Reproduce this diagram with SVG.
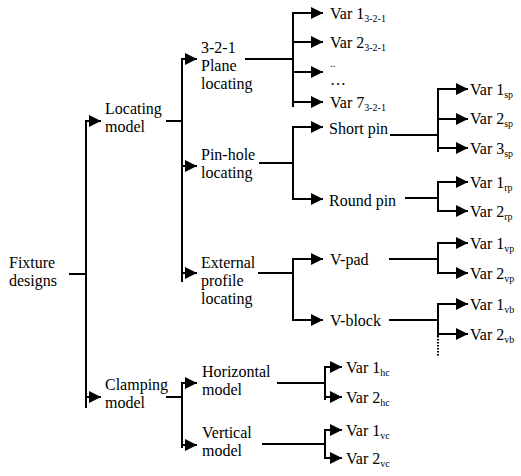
<svg xmlns="http://www.w3.org/2000/svg" width="521" height="476" viewBox="0 0 521 476" font-size="16">
<style>
.t{font-family:Liberation Serif}
.sub{font-size:10px}
.ln{stroke:#000;stroke-width:2;fill:none}
.ar{stroke:#000;stroke-width:2;fill:none;marker-end:url(#ah)}
.dot{stroke:#000;stroke-width:2;fill:none;stroke-dasharray:1.5 1.5}
</style>
<defs>
<marker id="ah" markerUnits="userSpaceOnUse" markerWidth="13" markerHeight="13" refX="12" refY="6" orient="auto" overflow="visible">
<path d="M0,0 L12,6 L0,12 Z" fill="#000"/>
</marker>
</defs>
<rect width="521" height="476" fill="#fff"/>
<g id="connectors">
<path class="ln" d="M69,274 H86 M86,120 V408"/>
<path class="ar" d="M86,121 H101"/>
<path class="ar" d="M86,397 H101"/>
<path class="ln" d="M166,121 H182 M182,58 V282"/>
<path class="ar" d="M182,59 H197"/>
<path class="ar" d="M182,166 H197"/>
<path class="ar" d="M182,273 H197"/>
<path class="ln" d="M166,397 H182 M182,382 V448"/>
<path class="ar" d="M182,383 H197"/>
<path class="ar" d="M182,445 H197"/>
<path class="ln" d="M245,59 H293 M293,12 V107"/>
<path class="ar" d="M293,13 H323"/>
<path class="ar" d="M293,42 H323"/>
<path class="ar" d="M293,72 H323"/>
<path class="ar" d="M293,102 H323"/>
<path class="ln" d="M259,163 H293 M293,126 V200"/>
<path class="ar" d="M293,127 H323"/>
<path class="ar" d="M293,199 H323"/>
<path class="ln" d="M258,273 H293 M293,258 V321"/>
<path class="ar" d="M293,259 H323"/>
<path class="ar" d="M293,320 H323"/>
<path class="ln" d="M390,135 H438 M438,88 V152"/>
<path class="ar" d="M438,89 H468"/>
<path class="ar" d="M438,119 H468"/>
<path class="ar" d="M438,148 H468"/>
<path class="ln" d="M405,198 H438 M438,181 V212"/>
<path class="ar" d="M438,182 H468"/>
<path class="ar" d="M438,211 H468"/>
<path class="ln" d="M389,259 H438 M438,242 V274"/>
<path class="ar" d="M438,243 H468"/>
<path class="ar" d="M438,273 H468"/>
<path class="ln" d="M389,320 H438 M438,303 V336"/>
<path class="dot" d="M438,336 V357"/>
<path class="ar" d="M438,304 H468"/>
<path class="ar" d="M438,334 H468"/>
<path class="ln" d="M277,383 H325 M325,366 V400"/>
<path class="ar" d="M325,367 H342"/>
<path class="ar" d="M325,397 H342"/>
<path class="ln" d="M262,444 H325 M325,429 V459"/>
<path class="ar" d="M325,430 H342"/>
<path class="ar" d="M325,458 H342"/>
</g>
<g id="fixture-designs" class="t"><text font-family="Liberation Serif" x="9" y="268">Fixture</text><text font-family="Liberation Serif" x="9" y="286">designs</text></g>
<g id="locating-model" class="t"><text font-family="Liberation Serif" x="105" y="114">Locating</text><text font-family="Liberation Serif" x="105" y="132">model</text></g>
<g id="clamping-model" class="t"><text font-family="Liberation Serif" x="105" y="390">Clamping</text><text font-family="Liberation Serif" x="105" y="408">model</text></g>
<g id="plane-locating" class="t"><text font-family="Liberation Serif" x="201" y="53">3-2-1</text><text font-family="Liberation Serif" x="201" y="71">Plane</text><text font-family="Liberation Serif" x="201" y="89">locating</text></g>
<g id="pinhole-locating" class="t"><text font-family="Liberation Serif" x="201" y="160">Pin-hole</text><text font-family="Liberation Serif" x="201" y="178">locating</text></g>
<g id="external-profile" class="t"><text font-family="Liberation Serif" x="201" y="268">External</text><text font-family="Liberation Serif" x="201" y="286">profile</text><text font-family="Liberation Serif" x="201" y="304">locating</text></g>
<g id="horizontal-model" class="t"><text font-family="Liberation Serif" x="202" y="377">Horizontal</text><text font-family="Liberation Serif" x="202" y="395">model</text></g>
<g id="vertical-model" class="t"><text font-family="Liberation Serif" x="202" y="438">Vertical</text><text font-family="Liberation Serif" x="202" y="456">model</text></g>
<g id="var1-321" class="t"><text font-family="Liberation Serif" x="330" y="19">Var 1<tspan class="sub" dy="3">3-2-1</tspan></text></g>
<g id="var2-321" class="t"><text font-family="Liberation Serif" x="330" y="48">Var 2<tspan class="sub" dy="3">3-2-1</tspan></text></g>
<g id="dots-321" class="t"><text font-family="Liberation Serif" x="330" y="67" font-size="11">..</text><text font-family="Liberation Serif" x="330" y="85">…</text></g>
<g id="var7-321" class="t"><text font-family="Liberation Serif" x="330" y="108">Var 7<tspan class="sub" dy="3">3-2-1</tspan></text></g>
<g id="short-pin" class="t"><text font-family="Liberation Serif" x="329" y="134">Short pin</text></g>
<g id="round-pin" class="t"><text font-family="Liberation Serif" x="329" y="206">Round pin</text></g>
<g id="v-pad" class="t"><text font-family="Liberation Serif" x="330" y="265">V-pad</text></g>
<g id="v-block" class="t"><text font-family="Liberation Serif" x="330" y="326">V-block</text></g>
<g id="var1-sp" class="t"><text font-family="Liberation Serif" x="470" y="95">Var 1<tspan class="sub" dy="3">sp</tspan></text></g>
<g id="var2-sp" class="t"><text font-family="Liberation Serif" x="470" y="124">Var 2<tspan class="sub" dy="3">sp</tspan></text></g>
<g id="var3-sp" class="t"><text font-family="Liberation Serif" x="470" y="154">Var 3<tspan class="sub" dy="3">sp</tspan></text></g>
<g id="var1-rp" class="t"><text font-family="Liberation Serif" x="470" y="188">Var 1<tspan class="sub" dy="3">rp</tspan></text></g>
<g id="var2-rp" class="t"><text font-family="Liberation Serif" x="470" y="217">Var 2<tspan class="sub" dy="3">rp</tspan></text></g>
<g id="var1-vp" class="t"><text font-family="Liberation Serif" x="470" y="249">Var 1<tspan class="sub" dy="3">vp</tspan></text></g>
<g id="var2-vp" class="t"><text font-family="Liberation Serif" x="470" y="279">Var 2<tspan class="sub" dy="3">vp</tspan></text></g>
<g id="var1-vb" class="t"><text font-family="Liberation Serif" x="470" y="310">Var 1<tspan class="sub" dy="3">vb</tspan></text></g>
<g id="var2-vb" class="t"><text font-family="Liberation Serif" x="470" y="340">Var 2<tspan class="sub" dy="3">vb</tspan></text></g>
<g id="var1-hc" class="t"><text font-family="Liberation Serif" x="346" y="373">Var 1<tspan class="sub" dy="3">hc</tspan></text></g>
<g id="var2-hc" class="t"><text font-family="Liberation Serif" x="346" y="403">Var 2<tspan class="sub" dy="3">hc</tspan></text></g>
<g id="var1-vc" class="t"><text font-family="Liberation Serif" x="346" y="436">Var 1<tspan class="sub" dy="3">vc</tspan></text></g>
<g id="var2-vc" class="t"><text font-family="Liberation Serif" x="346" y="464">Var 2<tspan class="sub" dy="3">vc</tspan></text></g>
</svg>
